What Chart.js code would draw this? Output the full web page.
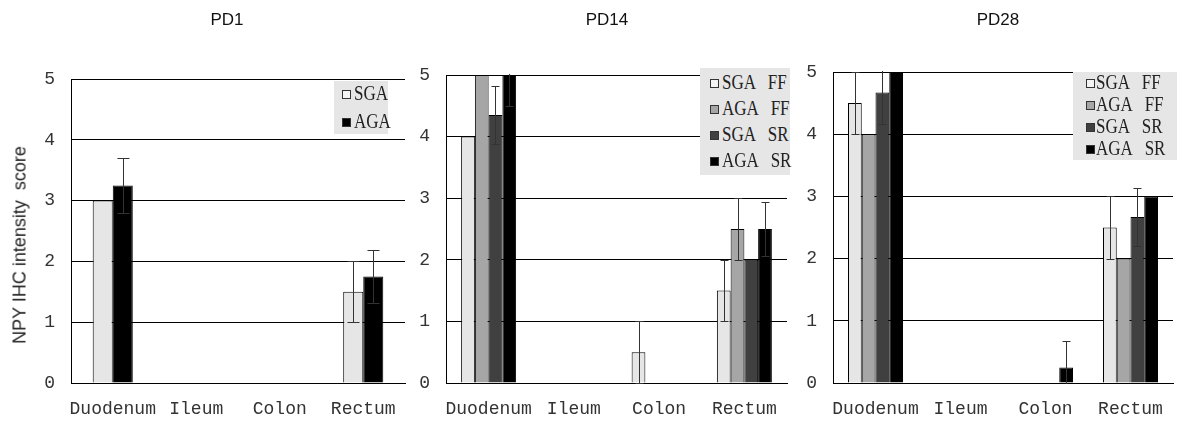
<!DOCTYPE html>
<html>
<head>
<meta charset="utf-8">
<script src="https://cdn.jsdelivr.net/npm/chart.js@4.4.0/dist/chart.umd.min.js"></script>
<style>
body { margin:0; background:#fff; width:1177px; height:422px; position:relative; overflow:hidden; font-family:"Liberation Sans", Arial, sans-serif; }
canvas { position:absolute; top:0; }
.title { position:absolute; top:10px; font-size:17px; color:#111; transform:translateX(-50%); }
.ytitle { position:absolute; left:20px; top:245px; font-size:18px; color:#222; white-space:pre; transform:translate(-50%,-50%) rotate(-90deg); }
.legend { position:absolute; background:#e6e6e6; font-family:"Liberation Serif", serif; font-size:17px; color:#222; }
.row { position:absolute; white-space:pre; height:20px; line-height:20px; }
.mk { position:absolute; width:7px; height:7px; border:1px solid #333; top:6px; }
.txt { position:absolute; top:0; white-space:pre; transform:scaleY(1.2); }
</style>
</head>
<body>
<canvas id="c1" width="408" height="422" style="left:0px"></canvas>
<canvas id="c2" width="382" height="422" style="left:408px"></canvas>
<canvas id="c3" width="387" height="422" style="left:790px"></canvas>

<div class="title" style="left:227px">PD1</div>
<div class="title" style="left:607px">PD14</div>
<div class="title" style="left:998px">PD28</div>
<div class="ytitle">NPY IHC intensity  score</div>

<div id="leg1" class="legend"></div>
<div id="leg2" class="legend"></div>
<div id="leg3" class="legend"></div>

<script>
const categories = ['Duodenum', 'Ileum', 'Colon', 'Rectum'];

// PD1 (SGA / AGA)
const pd1SGA = [3, 0, 0, 1.5];
const pd1SGAerr = [0, 0, 0, 0.5];
const pd1AGA = [3.25, 0, 0, 1.75];
const pd1AGAerr = [0.45, 0, 0, 0.43];

// PD14
const pd14SGAFF = [4, 0, 0.5, 1.5];
const pd14SGAFFerr = [0, 0, 0.5, 0.5];
const pd14AGAFF = [5, 0, 0, 2.5];
const pd14AGAFFerr = [0, 0, 0, 0.5];
const pd14SGASR = [4.35, 0, 0, 2];
const pd14SGASRerr = [0.47, 0, 0, 0];
const pd14AGASR = [5, 0, 0, 2.5];
const pd14AGASRerr = [0.5, 0, 0, 0.44];

// PD28
const pd28SGAFF = [4.5, 0, 0, 2.5];
const pd28SGAFFerr = [0.5, 0, 0, 0.5];
const pd28AGAFF = [4, 0, 0, 2];
const pd28AGAFFerr = [0, 0, 0, 0];
const pd28SGASR = [4.67, 0, 0, 2.67];
const pd28SGASRerr = [0.5, 0, 0, 0.47];
const pd28AGASR = [5, 0, 0.25, 3];
const pd28AGASRerr = [0, 0, 0.43, 0];

const colSGAFF = '#e6e6e6';
const colAGAFF = '#a6a6a6';
const colSGASR = '#404040';
const colAGASR = '#000000';

// draws the error bars on top of the bars
const errorBars = {
  id: 'errorBars',
  afterDatasetsDraw(chart, args, opts) {
    const ctx = chart.ctx, ys = chart.scales.y, a = chart.chartArea;
    const cap = opts.cap || 5;
    ctx.save();
    ctx.beginPath();
    ctx.rect(a.left, a.top - 1, a.right - a.left, a.bottom - a.top + 2);
    ctx.clip();
    ctx.strokeStyle = '#333';
    ctx.lineWidth = 1;
    chart.data.datasets.forEach((ds, i) => {
      const meta = chart.getDatasetMeta(i);
      ds.errors.forEach((e, j) => {
        if (!e) return;
        const v = ds.data[j];
        const x = Math.round(meta.data[j].x) + 0.5;
        const top = Math.round(ys.getPixelForValue(v + e)) + 0.5;
        const bot = Math.round(ys.getPixelForValue(v - e)) + 0.5;
        ctx.beginPath();
        ctx.moveTo(x, top); ctx.lineTo(x, bot);
        ctx.moveTo(x - cap, top); ctx.lineTo(x + cap, top);
        ctx.moveTo(x - cap, bot); ctx.lineTo(x + cap, bot);
        ctx.stroke();
      });
    });
    ctx.restore();
  }
};

function ds(label, data, errors, color) {
  return { label: label, data: data, errors: errors, backgroundColor: color,
           borderColor: '#000', borderWidth: 1 };
}

function makeChart(id, datasets, o) {
  return new Chart(document.getElementById(id), {
    type: 'bar',
    data: { labels: categories, datasets: datasets },
    plugins: [errorBars],
    options: {
      responsive: false,
      animation: false,
      devicePixelRatio: 1,
      layout: { padding: { top: o.top, right: o.right, left: 0, bottom: 0 } },
      datasets: { bar: { categoryPercentage: o.catPct, barPercentage: 1 } },
      plugins: {
        legend: { display: false },
        tooltip: { enabled: false },
        errorBars: { cap: o.cap }
      },
      scales: {
        x: {
          grid: { display: false },
          border: { color: '#000' },
          ticks: { color: '#333', padding: 7, maxRotation: 0, autoSkip: false,
                   font: { family: 'Liberation Mono', size: 18 } },
          afterFit(s) { s.height = 39; }
        },
        y: {
          min: 0, max: 5,
          grid: { color: '#000', drawTicks: false },
          border: { color: '#000' },
          ticks: { stepSize: 1, padding: 16, color: '#333',
                   font: { family: 'Liberation Mono', size: 18 } },
          afterFit(s) { s.width = o.yWidth; }
        }
      }
    }
  });
}

makeChart('c1', [
  ds('SGA', pd1SGA, pd1SGAerr, colSGAFF),
  ds('AGA', pd1AGA, pd1AGAerr, colAGASR)
], { top: 79, right: 3, yWidth: 71, catPct: 0.48, cap: 6 });

makeChart('c2', [
  ds('SGA FF', pd14SGAFF, pd14SGAFFerr, colSGAFF),
  ds('AGA FF', pd14AGAFF, pd14AGAFFerr, colAGAFF),
  ds('SGA SR', pd14SGASR, pd14SGASRerr, colSGASR),
  ds('AGA SR', pd14AGASR, pd14AGASRerr, colAGASR)
], { top: 75, right: 3, yWidth: 38, catPct: 0.645, cap: 4 });

makeChart('c3', [
  ds('SGA FF', pd28SGAFF, pd28SGAFFerr, colSGAFF),
  ds('AGA FF', pd28AGAFF, pd28AGAFFerr, colAGAFF),
  ds('SGA SR', pd28SGASR, pd28SGASRerr, colSGASR),
  ds('AGA SR', pd28AGASR, pd28AGASRerr, colAGASR)
], { top: 72, right: 4, yWidth: 43, catPct: 0.647, cap: 4 });

// legends (gray boxes inside the plot area)
function legend(id, items, b) {
  const el = document.getElementById(id);
  el.style.left = b.left + 'px'; el.style.top = b.top + 'px';
  el.style.width = b.w + 'px'; el.style.height = b.h + 'px';
  items.forEach((it, i) => {
    const row = document.createElement('div');
    row.className = 'row';
    row.style.left = b.mk + 'px';
    row.style.top = (b.first + i * b.step - 10) + 'px';
    const mk = document.createElement('span');
    mk.className = 'mk';
    mk.style.left = '0px';
    mk.style.background = it[1] === colSGAFF ? '#f4f4f4' : it[1];
    row.appendChild(mk);
    const t = document.createElement('span');
    t.className = 'txt';
    t.style.left = b.txt + 'px';
    t.textContent = it[0];
    row.appendChild(t);
    el.appendChild(row);
  });
}
const leg4 = [['SGA   FF', colSGAFF], ['AGA   FF', colAGAFF], ['SGA   SR', colSGASR], ['AGA   SR', colAGASR]];
legend('leg1', [['SGA', colSGAFF], ['AGA', colAGASR]], { left: 334, top: 81, w: 54, h: 53, mk: 8, txt: 12, first: 13, step: 28 });
legend('leg2', leg4, { left: 700, top: 68, w: 90, h: 107, mk: 10, txt: 12, first: 15, step: 26 });
legend('leg3', leg4, { left: 1073, top: 72, w: 104, h: 88, mk: 13, txt: 10, first: 11, step: 22 });
</script>
</body>
</html>
